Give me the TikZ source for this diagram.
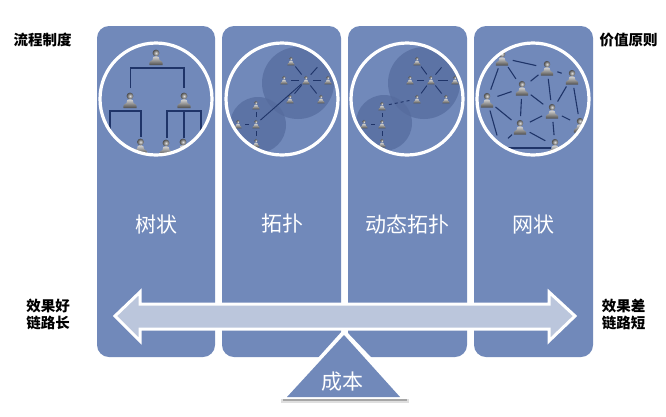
\documentclass[tikz,border=0pt]{standalone}
\usepackage{fontspec}
\setmainfont{Noto Sans CJK SC}
\definecolor{panelc}{HTML}{7189BA}
\definecolor{shade}{HTML}{566C9E}
\definecolor{linkc}{HTML}{1F3468}
\definecolor{arrowc}{HTML}{BBC6DC}
\tikzset{
  x=1pt,y=-1pt,
  panel/.style={fill=panelc,draw=none,rounded corners=12},
  ring/.style={draw=white,line width=3.2pt},
  cloud/.style={fill=shade,fill opacity=.75,draw=none},
  treeline/.style={draw=linkc,line width=1.3pt},
  link/.style={draw=linkc,line width=.9pt,shorten >=#1,shorten <=#1},
  link/.default=7pt,
  wtitle/.style={text=white,font=\fontsize{21}{25}\selectfont,inner sep=0pt},
  side/.style={text=black,font=\fontsize{14.5}{17}\selectfont\bfseries,inner sep=0pt,align=center},
}
% person symbol: name, x, y, scale
\newcommand{\pers}[4]{%
  \coordinate (#1) at (#2,#3);
  \begin{scope}[shift={(#2,#3)},scale=#4]
    \shade[top color=gray!30,bottom color=gray!60!black,draw=none]
      (-6.5,8) .. controls (-7.5,4.5) and (-4,3.5) .. (-3.5,3) .. controls (-4.5,1) and (-2,-1) .. (0,-1)
      .. controls (2,-1) and (4.5,1) .. (3.5,3) .. controls (4,3.5) and (7.5,4.5) .. (6.5,8) -- cycle;
    \shade[inner color=gray!25,outer color=gray!60!black,draw=none] (0,-4) circle[radius=3.4];
  \end{scope}}
\begin{document}
\begin{tikzpicture}
\useasboundingbox (0,0) rectangle (666,416);
\fill[white] (0,0) rectangle (666,416);
% panels
\path[panel] (97,26) rectangle (215,357);
\path[panel] (222,26) rectangle (341,357);
\path[panel] (348,26) rectangle (467,357);
\path[panel] (474,26) rectangle (593,357);

% ---- tree
\begin{scope}
\clip (156,99) circle[radius=56];
\coordinate (b1) at (130.5,68); \coordinate (b2) at (184,68);
\coordinate (b3) at (110,111); \coordinate (b4) at (141,111);
\coordinate (b5) at (167,111); \coordinate (b6) at (184,111); \coordinate (b7) at (201,111);
\draw[treeline] (130.5,88) -- (b1) -- (b2) -- (184,88);
\draw[treeline] (110,140) -- (b3) -- (b4) -- (141,137);
\draw[treeline] (167,138) -- (b5) -- (b7) -- (201,140);
\draw[treeline] (b6) -- (184,138);
\pers{ta}{156}{57}{1}
\pers{tb}{130}{100}{1}
\pers{tc}{184}{100}{1}
\pers{td}{140.5}{146}{1}
\pers{te}{166}{147}{1}
\pers{tf}{183}{146}{1}
\end{scope}
\draw[ring] (156,99) circle[radius=56];

% ---- topology
\begin{scope}
\clip (282,99) circle[radius=56];
\fill[cloud] (298,83) circle[radius=36];
\fill[cloud] (258,125) circle[radius=28];
\pers{pa}{306}{80}{.55}
\pers{pb}{291}{61}{.55}
\pers{pc}{284}{80}{.55}
\pers{pd}{328}{80}{.55}
\pers{pe}{290}{99}{.55}
\pers{pf}{321}{99}{.55}
\coordinate (pg) at (322,62);
\pers{ph}{256}{124}{.55}
\pers{pi}{256}{105}{.55}
\pers{pj}{238}{124}{.55}
\pers{pk}{256}{143}{.55}
\draw[link] (pa) -- (pb); \draw[link] (pa) -- (pc); \draw[link] (pa) -- (pd);
\draw[link] (pa) -- (pe); \draw[link] (pa) -- (pf); \draw[link] (pa) -- (pg);
\draw[link] (ph) -- (pi); \draw[link] (ph) -- (pj); \draw[link] (ph) -- (pk);
\draw[link=6pt] (ph) -- (pa);
\end{scope}
\draw[ring] (282,99) circle[radius=56];

% ---- dynamic topology
\begin{scope}
\clip (407,99) circle[radius=56];
\fill[cloud] (424,83) circle[radius=36];
\fill[cloud] (384,123) circle[radius=28];
\pers{qa}{431}{80}{.55}
\pers{qb}{417}{61}{.55}
\pers{qc}{410}{80}{.55}
\pers{qd}{455}{80}{.55}
\pers{qe}{417}{99}{.55}
\pers{qf}{446}{99}{.55}
\coordinate (qg) at (446,62);
\pers{qh}{382}{124}{.55}
\pers{qi}{382}{106}{.55}
\pers{qj}{364}{124}{.55}
\pers{qk}{382}{143}{.55}
\draw[link] (qa) -- (qb); \draw[link] (qa) -- (qc); \draw[link] (qa) -- (qd);
\draw[link] (qa) -- (qe); \draw[link] (qa) -- (qf); \draw[link] (qa) -- (qg);
\draw[link] (qh) -- (qi); \draw[link] (qh) -- (qj); \draw[link] (qh) -- (qk);
\draw[link,dashed] (qi) -- (qe);
\end{scope}
\draw[ring] (407,99) circle[radius=56];

% ---- mesh
\begin{scope}
\clip (533,99) circle[radius=56];
\coordinate (na) at (502,58); \coordinate (nb) at (547,68); \coordinate (nc) at (572,77);
\coordinate (nd) at (522,88); \coordinate (ne) at (487,100); \coordinate (nf) at (552,111);
\coordinate (ng) at (520,127); \coordinate (nh) at (580,125); \coordinate (ni) at (555,146);
\coordinate (nj) at (500,146);
\foreach \s/\t in {na/nb,nb/nc,na/nd,na/ne,nd/nb,nd/ne,nd/nf,nd/ng,nb/nf,nc/nf,nc/nh,nf/ng,nf/nh,nf/ni,ng/ne,ng/nj,ng/ni,ne/nj}
  \draw[link=11pt,line width=1.1pt] (\s) -- (\t);
\draw[draw=linkc,line width=1.1pt] (nj) ++(4,2) -- (551,148);
\pers{pna}{502}{58}{.95}
\pers{pnb}{547}{68}{.95}
\pers{pnc}{572}{77}{.95}
\pers{pnd}{522}{88}{.95}
\pers{pne}{487}{100}{.95}
\pers{pnf}{552}{111}{.95}
\pers{png}{520}{127}{.95}
\pers{pnh}{580}{125}{.95}
\pers{pni}{555}{146}{.95}
\end{scope}
\draw[ring] (533,99) circle[radius=56];

% titles
\node[wtitle] (n1) at (156,224) {树状};
\node[wtitle] (n2) at (282,224) {拓扑};
\node[wtitle] (n3) at (407.5,224) {动态拓扑};
\node[wtitle] (n4) at (533,224) {网状};

% balance arrow
\draw[draw=white,line width=3pt,fill=arrowc,line join=miter]
  (115,316) -- (140,292) -- (140,304) -- (549,304) -- (549,292) -- (575,316)
  -- (549,341) -- (549,329) -- (140,329) -- (140,341) -- cycle;

% cost triangle
\fill[white] (344,329) -- (411,399) -- (281,399) -- cycle;
\fill[panelc] (344,335) -- (400,397) -- (287,397) -- cycle;
\fill[gray!25] (281,399) rectangle (409,403);
\fill[gray!70] (283,398.5) rectangle (407,400.5);
\node[wtitle] (n5) at (342,382) {成本};

% side labels
\node[side] (s1) at (42.5,40) {流程制度};
\node[side] (s2) at (628.5,40) {价值原则};
\node[side] (s3) at (48,314.5) {效果好\\链路长};
\node[side] (s4) at (623.5,314.5) {效果差\\链路短};
\end{tikzpicture}
\end{document}
